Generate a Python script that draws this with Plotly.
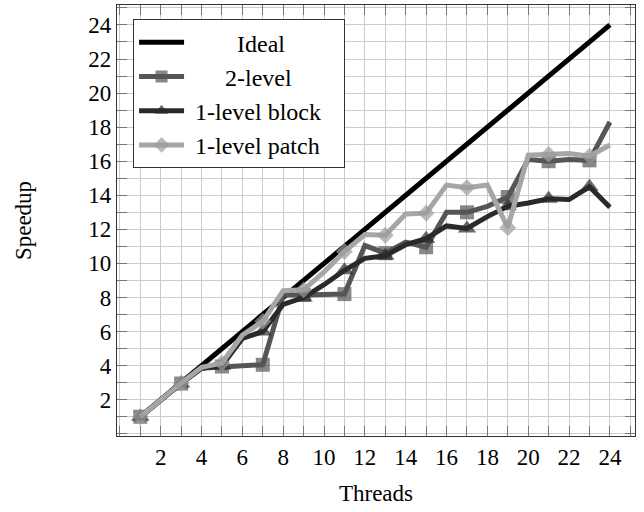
import plotly.graph_objects as go

threads = list(range(1, 25))
ideal = [float(t) for t in threads]
two_level = [1.0, 2.0, 2.95, 3.85, 3.95, 4.0, 4.05, 8.15, 8.15, 8.2, 8.2, 11.05,
             10.6, 11.25, 10.95, 13.0, 13.0, 13.35, 13.9, 16.1, 16.0, 16.1, 16.05, 18.3]
block = [1.0, 2.0, 2.95, 3.85, 4.0, 5.6, 6.0, 7.6, 8.0, 8.75, 9.6, 10.3,
         10.45, 11.1, 11.45, 12.2, 12.05, 12.75, 13.35, 13.55, 13.8, 13.75, 14.5, 13.3]
patch = [1.0, 2.0, 2.97, 3.9, 4.15, 5.8, 6.6, 8.4, 8.45, 9.5, 10.7, 11.7,
         11.65, 12.9, 12.95, 14.6, 14.45, 14.6, 12.1, 16.35, 16.4, 16.45, 16.3, 16.95]
x_ticks = list(range(2, 25, 2))
y_ticks = list(range(2, 25, 2))
series_names = ["Ideal", "2-level", "1-level block", "1-level patch"]

FONT = "Liberation Serif"
NB = "\u00a0"
# non-breaking spaces so that the legend texts appear centred in the box
legend_pad = [8, 6, 1, 1]
labels = [NB * p + n + NB * 3 for p, n in zip(legend_pad, series_names)]


def sizes(s):
    # marks on every other point (odd thread counts)
    return [s if t % 2 == 1 else 0 for t in threads]


fig = go.Figure()
fig.add_trace(go.Scatter(x=threads, y=ideal, name=labels[0], mode="lines",
                         line=dict(color="#000000", width=5)))
fig.add_trace(go.Scatter(x=threads, y=two_level, name=labels[1], mode="lines+markers",
                         line=dict(color="#555555", width=5),
                         marker=dict(symbol="square", size=sizes(14), color="#555555",
                                     line=dict(width=0))))
fig.add_trace(go.Scatter(x=threads, y=block, name=labels[2], mode="lines+markers",
                         line=dict(color="#2a2a2a", width=5),
                         marker=dict(symbol="triangle-up", size=sizes(16), color="#2a2a2a",
                                     line=dict(width=0))))
fig.add_trace(go.Scatter(x=threads, y=patch, name=labels[3], mode="lines+markers",
                         line=dict(color="#a6a6a6", width=5),
                         marker=dict(symbol="diamond", size=sizes(13), color="#9c9c9c",
                                     line=dict(width=0))))

axis_common = dict(
    showgrid=True, gridcolor="#cccccc", gridwidth=1,
    showline=True, linecolor="#333333", linewidth=1.2, mirror="ticks",
    ticks="inside", ticklen=10, tickcolor="#777777", tickwidth=1,
    zeroline=False, automargin=False,
    tickfont=dict(family=FONT, size=23, color="#000000"),
    minor=dict(dtick=1, showgrid=True, gridcolor="#cccccc", gridwidth=1,
               ticks="inside", ticklen=10, tickcolor="#777777"),
)

fig.update_xaxes(range=[-0.14, 25.23], tickvals=x_ticks,
                 title=dict(text="Threads", font=dict(family=FONT, size=23, color="#000000"),
                            standoff=16),
                 **axis_common)
fig.update_yaxes(range=[-0.13, 25.17], tickvals=y_ticks,
                 title=dict(text="Speedup", font=dict(family=FONT, size=23, color="#000000"),
                            standoff=50),
                 **axis_common)

fig.update_layout(
    width=644, height=512,
    margin=dict(l=117, r=9, t=5, b=76),
    plot_bgcolor="white", paper_bgcolor="white",
    showlegend=True,
    legend=dict(x=0.031, y=0.967, xanchor="left", yanchor="top",
                bgcolor="white", bordercolor="#333333", borderwidth=1,
                font=dict(family=FONT, size=24, color="#000000"),
                itemsizing="constant", itemwidth=45, tracegroupgap=0),
)

fig.write_html("out.html")
